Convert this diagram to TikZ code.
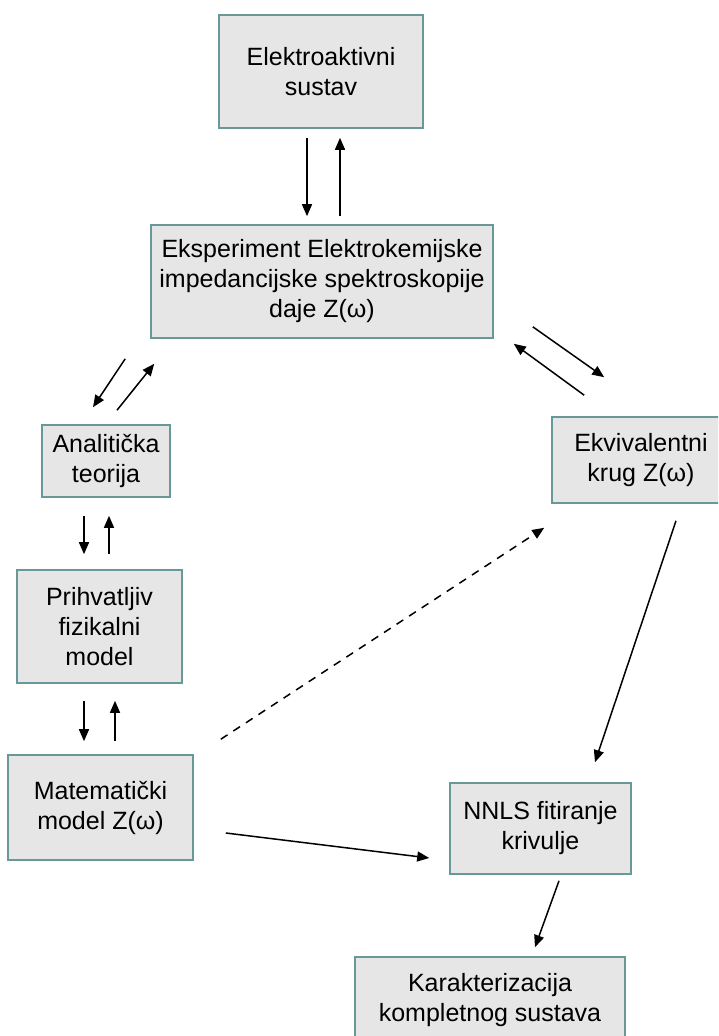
\documentclass[tikz,border=0pt]{standalone}
\usepackage{fontspec}
\setmainfont{Liberation Sans}
\usetikzlibrary{arrows.meta}
\definecolor{boxfill}{RGB}{230,230,230}
\definecolor{boxedge}{RGB}{104,152,152}
\begin{document}
\begin{tikzpicture}[x=1pt,y=-1pt,
  stage/.style={draw=boxedge, fill=boxfill, line width=1.6pt, inner sep=0pt,
    align=center, font=\fontsize{25}{30}\selectfont},
  arr/.style={line width=1.5pt, -{Triangle[length=12pt,width=10pt]}},
  dashedarr/.style={arr, dash pattern=on 8pt off 7pt}]
\useasboundingbox (0,0) rectangle (718,1036);
\fill[white] (0,0) rectangle (718,1036);
\clip (0,0) rectangle (718,1036);

% stages of the procedure
\node[stage, minimum width=204pt, minimum height=113pt] (A) at (321,71.5) {Elektroaktivni\\sustav};
\node[stage, minimum width=342pt, minimum height=113pt] (B) at (322,281.5) {Eksperiment Elektrokemijske\\impedancijske spektroskopije\\daje Z(ω)};
\node[stage, minimum width=178pt, minimum height=86pt] (C) at (641,460) {Ekvivalentni\\krug Z(ω)};
\node[stage, minimum width=128pt, minimum height=72pt] (D) at (106,461) {Analitička\\teorija};
\node[stage, minimum width=165pt, minimum height=113pt] (E) at (99.5,626.5) {Prihvatljiv\\fizikalni\\model};
\node[stage, minimum width=185pt, minimum height=105pt] (F) at (100.5,807.5) {Matematički\\model Z(ω)};
\node[stage, minimum width=181pt, minimum height=91pt] (G) at (540.5,828.5) {NNLS fitiranje\\krivulje};
\node[stage, minimum width=270pt, minimum height=86pt] (H) at (490,1000) {Karakterizacija\\kompletnog sustava};

% connectors
\draw[arr] ([shift={(-14,9)}]A.south) -- ([shift={(-15,-8)}]B.north);
\draw[arr] ([shift={(18,-8)}]B.north) -- ([shift={(19,9)}]A.south);

\draw[arr] ([shift={(39,-12)}]B.south east) -- ([shift={(53,-39)}]C.north west);
\draw[arr] ([shift={(33,-21)}]C.north west) -- ([shift={(20,5)}]B.south east);

\draw[arr] ([shift={(-25,20)}]B.south west) -- ([shift={(-13,-17)}]D.north);
\draw[arr] ([shift={(11,-14)}]D.north) -- ([shift={(4,25)}]B.south west);

\draw[arr] ([shift={(-22,18)}]D.south) -- ([shift={(-15.5,-15)}]E.north);
\draw[arr] ([shift={(9.5,-15)}]E.north) -- ([shift={(3,18)}]D.south);

\draw[arr] ([shift={(-15.5,17)}]E.south) -- ([shift={(-16.5,-13)}]F.north);
\draw[arr] ([shift={(14.5,-13)}]F.north) -- ([shift={(15.5,17)}]E.south);

\draw[arr] ([shift={(32,25.5)}]F.east) -- ([shift={(-20,29.5)}]G.west);
\draw[dashedarr] ([shift={(27,-15)}]F.north east) -- ([shift={(-7,24)}]C.south west);
\draw[arr] ([shift={(35,17)}]C.south) -- ([shift={(54.5,-20)}]G.north);
\draw[arr] ([shift={(18.5,6)}]G.south) -- ([shift={(45,-9)}]H.north);
\end{tikzpicture}
\end{document}
